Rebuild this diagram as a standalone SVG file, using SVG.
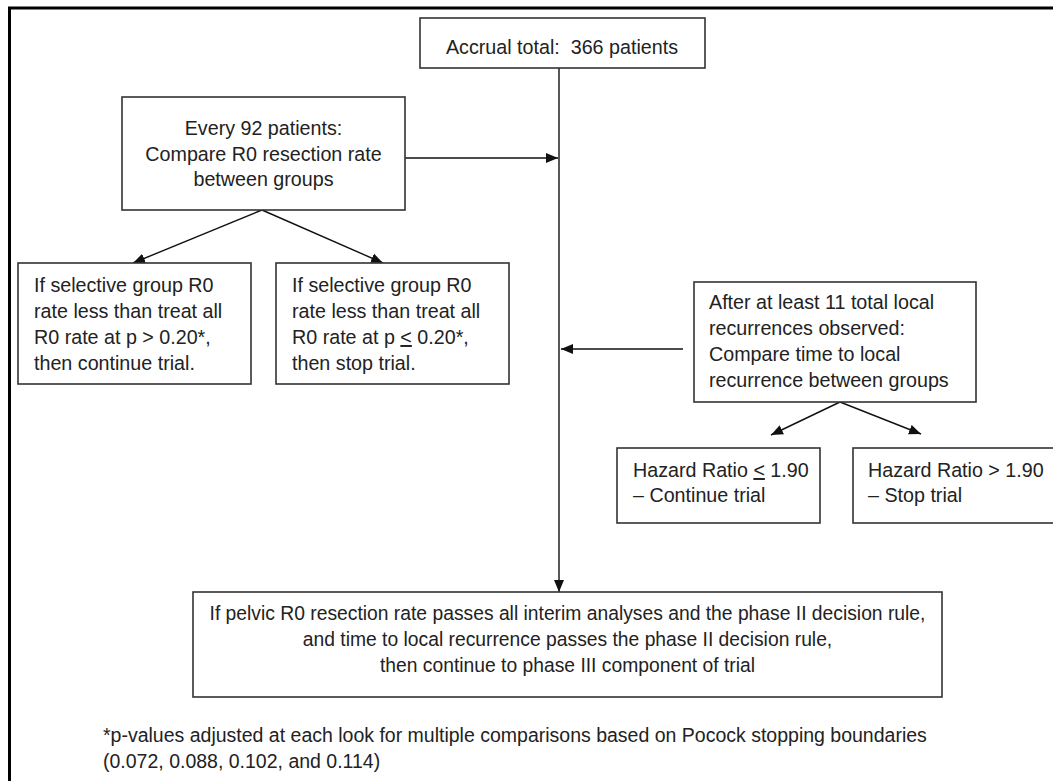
<svg xmlns="http://www.w3.org/2000/svg" width="1053" height="781" viewBox="0 0 1053 781">
<style>
.box{fill:#fff;stroke:#333;stroke-width:1.6}
.t{font-family:"Liberation Sans",Arial,sans-serif;font-size:19.7px;fill:#222}
.c{text-anchor:middle}
.b{font-size:19.3px}
.f{font-size:19.5px}
.conn{stroke:#111;stroke-width:1.4;fill:none;marker-end:url(#ah)}
.u{text-decoration:underline}
</style>
<defs>
<marker id="ah" markerUnits="userSpaceOnUse" markerWidth="13" markerHeight="11" refX="12" refY="5" orient="auto" viewBox="0 0 13 10">
<path d="M0,0 L12,5 L0,10 z" fill="#111"/>
</marker>
</defs>
<rect x="0" y="0" width="1053" height="781" fill="#fff"/>
<rect id="frame" x="9.5" y="8" width="1100" height="1000" fill="none" stroke="#000" stroke-width="3"/>
<g id="connectors">
<path class="conn" d="M559 68 V592"/>
<path class="conn" d="M405 158 H558"/>
<path class="conn" d="M683 349 H561"/>
<path class="conn" d="M262 210 L133 263"/>
<path class="conn" d="M262 210 L383 263"/>
<path class="conn" d="M840 402 L771 435"/>
<path class="conn" d="M840 402 L921 434"/>
</g>
<g id="accrual">
<rect class="box" x="420" y="18" width="285" height="50"/>
<text class="t c" x="562" y="54" xml:space="preserve">Accrual total:  366 patients</text>
</g>
<g id="every92">
<rect class="box" x="122" y="97" width="283" height="113"/>
<text class="t c" x="263.5" y="135">Every 92 patients:</text>
<text class="t c" x="263.5" y="161">Compare R0 resection rate</text>
<text class="t c" x="263.5" y="186">between groups</text>
</g>
<g id="continue1">
<rect class="box" x="18" y="263" width="233" height="121"/>
<text class="t" x="34" y="292">If selective group R0</text>
<text class="t" x="34" y="318">rate less than treat all</text>
<text class="t" x="34" y="344">R0 rate at p &gt; 0.20*,</text>
<text class="t" x="34" y="370">then continue trial.</text>
</g>
<g id="stop1">
<rect class="box" x="276" y="263" width="233" height="121"/>
<text class="t" x="292" y="292">If selective group R0</text>
<text class="t" x="292" y="318">rate less than treat all</text>
<text class="t" x="292" y="344">R0 rate at p <tspan class="u">&lt;</tspan> 0.20*,</text>
<text class="t" x="292" y="370">then stop trial.</text>
</g>
<g id="after11">
<rect class="box" x="694" y="282" width="282" height="120"/>
<text class="t" x="709" y="309">After at least 11 total local</text>
<text class="t" x="709" y="335">recurrences observed:</text>
<text class="t" x="709" y="361">Compare time to local</text>
<text class="t" x="709" y="387">recurrence between groups</text>
</g>
<g id="hrcontinue">
<rect class="box" x="617" y="448" width="203" height="75"/>
<text class="t" x="633" y="477">Hazard Ratio <tspan class="u">&lt;</tspan> 1.90</text>
<text class="t" x="633" y="502">– Continue trial</text>
</g>
<g id="hrstop">
<rect class="box" x="853" y="448" width="220" height="75"/>
<text class="t" x="868" y="477">Hazard Ratio &gt; 1.90</text>
<text class="t" x="868" y="502">– Stop trial</text>
</g>
<g id="phase3">
<rect class="box" x="193" y="592" width="749" height="105"/>
<text class="t c b" x="567.5" y="620">If pelvic R0 resection rate passes all interim analyses and the phase II decision rule,</text>
<text class="t c b" x="567.5" y="646">and time to local recurrence passes the phase II decision rule,</text>
<text class="t c b" x="567.5" y="672">then continue to phase III component of trial</text>
</g>
<g id="footnote">
<text class="t f" x="103" y="742">*p-values adjusted at each look for multiple comparisons based on Pocock stopping boundaries</text>
<text class="t f" x="103" y="768">(0.072, 0.088, 0.102, and 0.114)</text>
</g>
</svg>
